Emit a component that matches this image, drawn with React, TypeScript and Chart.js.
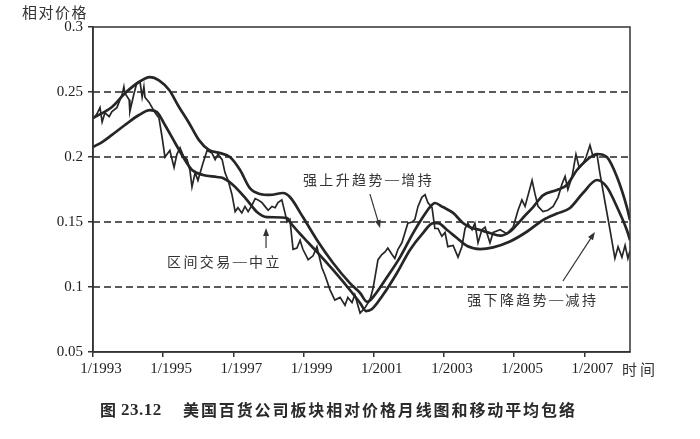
import React, { useEffect, useRef } from "react";
import { Chart, registerables } from "chart.js";

Chart.register(...registerables);

// ---- data ----
const priceYears = [
  1993.02, 1993.11, 1993.2, 1993.26, 1993.34, 1993.46, 1993.54, 1993.68, 1993.83, 1993.88,
  1993.91, 1994.03, 1994.05, 1994.17, 1994.25, 1994.34, 1994.4, 1994.45, 1994.48, 1994.6,
  1994.77, 1994.88, 1994.97, 1995.05, 1995.19, 1995.31, 1995.39, 1995.48, 1995.59, 1995.68,
  1995.76, 1995.82, 1995.91, 1995.99, 1996.13, 1996.25, 1996.39, 1996.48, 1996.56, 1996.68,
  1996.76, 1996.85, 1996.96, 1997.05, 1997.13, 1997.24, 1997.33, 1997.42, 1997.53, 1997.62,
  1997.7, 1997.81, 1997.9, 1997.99, 1998.1, 1998.19, 1998.27, 1998.38, 1998.47, 1998.53,
  1998.61, 1998.7, 1998.81, 1998.9, 1998.98, 1999.13, 1999.27, 1999.38, 1999.52, 1999.61,
  1999.75, 1999.89, 2000.04, 2000.18, 2000.26, 2000.38, 2000.46, 2000.61, 2000.75, 2000.89,
  2000.98, 2001.12, 2001.23, 2001.32, 2001.4, 2001.52, 2001.6, 2001.69, 2001.8, 2001.89,
  2001.97, 2002.09, 2002.17, 2002.26, 2002.37, 2002.46, 2002.54, 2002.66, 2002.74, 2002.83,
  2002.94, 2003.03, 2003.11, 2003.26, 2003.4, 2003.51, 2003.6, 2003.68, 2003.8, 2003.88,
  2003.97, 2004.08, 2004.17, 2004.31, 2004.4, 2004.6, 2004.79, 2004.97, 2005.11, 2005.22,
  2005.31, 2005.51, 2005.59, 2005.68, 2005.82, 2005.96, 2006.11, 2006.25, 2006.36, 2006.45,
  2006.53, 2006.65, 2006.76, 2006.85, 2006.96, 2007.05, 2007.16, 2007.25, 2007.36, 2007.44,
  2007.59, 2007.73, 2007.87, 2007.96, 2008.07, 2008.16, 2008.24, 2008.3,
];
const priceValues = [
  0.23, 0.233, 0.238, 0.227, 0.234, 0.231, 0.235, 0.238, 0.248, 0.254,
  0.249, 0.244, 0.235, 0.249, 0.257, 0.258, 0.246, 0.254, 0.246, 0.242,
  0.234, 0.23, 0.215, 0.2, 0.205, 0.192, 0.202, 0.207, 0.2, 0.198,
  0.19, 0.177, 0.188, 0.182, 0.195, 0.205, 0.203, 0.198, 0.202, 0.198,
  0.188, 0.182, 0.171, 0.158, 0.161, 0.157, 0.162, 0.158, 0.163, 0.168,
  0.167, 0.165, 0.162, 0.159, 0.162, 0.161, 0.165, 0.167, 0.157, 0.15,
  0.152, 0.129, 0.13, 0.136, 0.129, 0.121, 0.124, 0.131, 0.115, 0.109,
  0.098, 0.09, 0.092, 0.086, 0.092, 0.088, 0.094, 0.08, 0.084, 0.09,
  0.099, 0.121, 0.125, 0.127, 0.13, 0.125, 0.122, 0.129, 0.134, 0.142,
  0.149, 0.15, 0.152, 0.162, 0.169, 0.171, 0.165, 0.161, 0.145, 0.145,
  0.139, 0.142, 0.131, 0.132, 0.123, 0.131, 0.145, 0.149, 0.144, 0.149,
  0.134, 0.144, 0.146, 0.134, 0.142, 0.144, 0.141, 0.146, 0.159, 0.167,
  0.162, 0.182, 0.172, 0.162, 0.158, 0.159, 0.162, 0.169, 0.179, 0.185,
  0.175, 0.185, 0.202, 0.192, 0.195, 0.2, 0.209, 0.2, 0.202, 0.188,
  0.165, 0.144, 0.122, 0.131, 0.123, 0.132, 0.122, 0.128,
];

const upperYears = [
  1993.0, 1993.54, 1993.91, 1994.31, 1994.62, 1994.88, 1995.17, 1995.45, 1995.74, 1996.02,
  1996.3, 1996.62, 1996.9, 1997.19, 1997.47, 1997.76, 1998.04, 1998.41, 1998.61, 1998.98,
  1999.38, 1999.84, 2000.32, 2000.61, 2000.81, 2000.98, 2001.38, 2001.75, 2002.12, 2002.4,
  2002.6, 2002.74, 2002.97, 2003.26, 2003.54, 2003.74, 2004.03, 2004.31, 2004.6, 2004.88,
  2005.08, 2005.31, 2005.54, 2005.82, 2006.22, 2006.5, 2006.79, 2007.07, 2007.36, 2007.64,
  2007.93, 2008.21, 2008.3,
];
const upperValues = [
  0.23, 0.2385, 0.249, 0.2577, 0.2615, 0.259, 0.2515, 0.2385, 0.226, 0.213,
  0.2054, 0.203, 0.2, 0.19, 0.176, 0.1715, 0.1708, 0.1723, 0.1692, 0.1538,
  0.1362, 0.1185, 0.103, 0.0954, 0.0885, 0.0923, 0.1077, 0.123, 0.1415, 0.1538,
  0.1615, 0.1646, 0.1615, 0.157, 0.1492, 0.146, 0.1438, 0.1415, 0.1395, 0.1425,
  0.148, 0.155, 0.1615, 0.1705, 0.1746, 0.1785, 0.19, 0.1977, 0.2023, 0.2,
  0.1846, 0.1615, 0.1515,
];

const lowerYears = [
  1993.0, 1993.26, 1993.54, 1993.91, 1994.31, 1994.62, 1994.82, 1995.05, 1995.34, 1995.62,
  1995.82, 1996.13, 1996.53, 1996.7, 1996.99, 1997.39, 1997.67, 1997.96, 1998.53, 1998.61,
  1998.98, 1999.38, 1999.84, 2000.32, 2000.61, 2000.78, 2000.95, 2001.26, 2001.66, 2002.03,
  2002.4, 2002.69, 2002.83, 2003.09, 2003.37, 2003.66, 2004.03, 2004.4, 2004.88, 2005.36,
  2005.82, 2006.22, 2006.59, 2006.96, 2007.36, 2007.64, 2007.93, 2008.21, 2008.3,
];
const lowerValues = [
  0.2077, 0.2115, 0.217, 0.2246, 0.2323, 0.236, 0.2346, 0.2246, 0.2108, 0.1977,
  0.19, 0.1862, 0.1846, 0.1838, 0.1785, 0.1669, 0.1577, 0.1538, 0.1531, 0.15,
  0.1385, 0.127, 0.1131, 0.0977, 0.0877, 0.0815, 0.0831, 0.0938, 0.1108, 0.1285,
  0.1415, 0.1492, 0.1492, 0.1438, 0.1377, 0.1315, 0.1292, 0.1305, 0.135, 0.1425,
  0.1515, 0.1565, 0.1608, 0.1723, 0.1823, 0.1769, 0.1615, 0.1438, 0.136,
];

const xMin = 1993;
const xMax = 2008.3;
const xTickYears = [1993, 1995, 1997, 1999, 2001, 2003, 2005, 2007];
const yTickValues = [0.05, 0.1, 0.15, 0.2, 0.25, 0.3];
const yTickLabels = ["0.05", "0.1", "0.15", "0.2", "0.25", "0.3"];
const dashedLevels = [0.1, 0.15, 0.2, 0.25];

const yAxisTitle = "相对价格";
const xAxisTitle = "时间";
const captionPrefix = "图";
const captionNumber = "23.12";
const captionText = "美国百货公司板块相对价格月线图和移动平均包络";

const noteTexts = ["强上升趋势—增持", "区间交易—中立", "强下降趋势—减持"];
const noteX = [1998.98, 1995.11, 2003.66];
const noteY = [0.1823, 0.1192, 0.09];
const arrowFromX = [2000.89, 1997.93, 2006.39];
const arrowFromY = [0.1715, 0.13, 0.1046];
const arrowToX = [2001.18, 1997.93, 2007.3];
const arrowToY = [0.1454, 0.1454, 0.1423];

const INK = "#262626";
const CJK = "'Noto Sans CJK SC', 'Noto Sans', sans-serif";
const SERIF = "'Liberation Serif', 'DejaVu Serif', serif";

// draws text glyph by glyph with extra spacing; the em dash uses a serif face so it spans a full cell
function drawSpaced(ctx: CanvasRenderingContext2D, text: string, x: number, y: number, spacing: number, size: number) {
  let cx = x;
  for (const ch of Array.from(text)) {
    if (ch === "—") {
      const saved = ctx.font;
      ctx.font = `${size}px ${SERIF}`;
      const w = ctx.measureText(ch).width || size;
      ctx.fillText(ch, cx + (size - w) / 2, y);
      ctx.font = saved;
      cx += size + spacing;
    } else {
      ctx.fillText(ch, cx, y);
      cx += ctx.measureText(ch).width + spacing;
    }
  }
  return cx;
}

const decorPlugin = {
  id: "decor",
  beforeDatasetsDraw(chart: any) {
    const { ctx, chartArea, scales } = chart;
    const { left, right } = chartArea;
    ctx.save();
    ctx.strokeStyle = INK;
    ctx.lineWidth = 1.4;
    ctx.setLineDash([7, 4]);
    dashedLevels.forEach((v) => {
      const py = scales.y.getPixelForValue(v);
      ctx.beginPath();
      ctx.moveTo(left, py);
      ctx.lineTo(right, py);
      ctx.stroke();
    });
    ctx.restore();
  },
  afterDatasetsDraw(chart: any) {
    const { ctx, chartArea } = chart;
    const { left, right, top, bottom } = chartArea;
    ctx.save();
    ctx.strokeStyle = "#333";
    ctx.lineWidth = 1.5;
    ctx.strokeRect(left, top, right - left, bottom - top);
    ctx.restore();
  },
  afterDraw(chart: any) {
    const { ctx, chartArea, scales } = chart;
    const { left, right, top, bottom } = chartArea;
    const xs = scales.x;
    const ys = scales.y;
    ctx.save();
    ctx.fillStyle = "#333";
    ctx.textBaseline = "middle";
    ctx.textAlign = "left";

    // axis titles
    ctx.font = `15px ${CJK}`;
    drawSpaced(ctx, yAxisTitle, left - 71, top - 15, 1.5, 15);
    drawSpaced(ctx, xAxisTitle, right - 8, bottom + 17, 3, 15);

    // annotations
    ctx.font = `14px ${CJK}`;
    noteTexts.forEach((t, i) => {
      drawSpaced(ctx, t, xs.getPixelForValue(noteX[i]), ys.getPixelForValue(noteY[i]), 2.4, 14);
    });

    // arrows
    ctx.strokeStyle = "#333";
    ctx.lineWidth = 1.2;
    arrowFromX.forEach((_, i) => {
      const x1 = xs.getPixelForValue(arrowFromX[i]);
      const y1 = ys.getPixelForValue(arrowFromY[i]);
      const x2 = xs.getPixelForValue(arrowToX[i]);
      const y2 = ys.getPixelForValue(arrowToY[i]);
      const ang = Math.atan2(y2 - y1, x2 - x1);
      const hl = 8;
      const hw = 3;
      ctx.beginPath();
      ctx.moveTo(x1, y1);
      ctx.lineTo(x2 - Math.cos(ang) * hl * 0.8, y2 - Math.sin(ang) * hl * 0.8);
      ctx.stroke();
      ctx.beginPath();
      ctx.moveTo(x2, y2);
      ctx.lineTo(x2 - Math.cos(ang) * hl - Math.sin(ang) * hw, y2 - Math.sin(ang) * hl + Math.cos(ang) * hw);
      ctx.lineTo(x2 - Math.cos(ang) * hl + Math.sin(ang) * hw, y2 - Math.sin(ang) * hl - Math.cos(ang) * hw);
      ctx.closePath();
      ctx.fill();
    });

    // caption
    ctx.fillStyle = "#2a2a2a";
    const capY = bottom + 58;
    ctx.font = `bold 16px ${CJK}`;
    drawSpaced(ctx, captionPrefix, left + 7, capY, 0, 16);
    ctx.font = `bold 17px ${SERIF}`;
    drawSpaced(ctx, captionNumber, left + 28, capY + 1, 0.5, 17);
    ctx.font = `bold 16px ${CJK}`;
    drawSpaced(ctx, captionText, left + 90, capY, 1.9, 16);
    ctx.restore();
  },
};

export default function App() {
  const canvasRef = useRef<HTMLCanvasElement | null>(null);

  useEffect(() => {
    const canvas = canvasRef.current;
    if (!canvas) return;
    const toPoints = (xs: number[], ys: number[]) => xs.map((x, i) => ({ x, y: ys[i] }));
    const chart = new Chart(canvas, {
      type: "line",
      data: {
        datasets: [
          {
            label: "相对价格",
            data: toPoints(priceYears, priceValues),
            borderColor: INK,
            borderWidth: 1.7,
            pointRadius: 0,
            tension: 0,
            fill: false,
          },
          {
            label: "上包络",
            data: toPoints(upperYears, upperValues),
            borderColor: INK,
            borderWidth: 2.7,
            pointRadius: 0,
            cubicInterpolationMode: "monotone",
            fill: false,
          },
          {
            label: "下包络",
            data: toPoints(lowerYears, lowerValues),
            borderColor: INK,
            borderWidth: 2.7,
            pointRadius: 0,
            cubicInterpolationMode: "monotone",
            fill: false,
          },
        ],
      },
      options: {
        responsive: false,
        animation: false,
        devicePixelRatio: 1,
        layout: { padding: { top: 27, right: 70, bottom: 57, left: 0 } },
        plugins: {
          legend: { display: false },
          tooltip: { enabled: false },
          title: { display: false },
        },
        scales: {
          x: {
            type: "linear",
            min: xMin,
            max: xMax,
            afterBuildTicks: (scale: any) => {
              scale.ticks = xTickYears.map((v) => ({ value: v }));
            },
            afterFit: (scale: any) => {
              scale.height = 30;
            },
            ticks: {
              autoSkip: false,
              maxRotation: 0,
              padding: 3,
              labelOffset: 8,
              color: "#222",
              font: { family: SERIF, size: 15 },
              callback: (v: any) => "1/" + v,
            },
            grid: {
              drawOnChartArea: false,
              drawTicks: true,
              tickLength: 5,
              color: "#333",
              lineWidth: 1.5,
            },
            border: { display: true, color: "#333", width: 1.5 },
          },
          y: {
            type: "linear",
            min: 0.05,
            max: 0.3,
            afterBuildTicks: (scale: any) => {
              scale.ticks = yTickValues.map((v) => ({ value: v }));
            },
            afterFit: (scale: any) => {
              scale.width = 93;
            },
            ticks: {
              autoSkip: false,
              padding: 5,
              color: "#222",
              font: { family: SERIF, size: 15 },
              callback: (v: any) => {
                const idx = yTickValues.findIndex((t) => Math.abs(t - v) < 1e-9);
                return idx >= 0 ? yTickLabels[idx] : "";
              },
            },
            grid: {
              drawOnChartArea: false,
              drawTicks: true,
              tickLength: 5,
              color: "#333",
              lineWidth: 1.5,
            },
            border: { display: true, color: "#333", width: 1.5 },
          },
        },
      },
      plugins: [decorPlugin],
    } as any);
    return () => chart.destroy();
  }, []);

  return (
    <div style={{ position: "absolute", left: 0, top: 0, width: 700, height: 439, background: "#fff" }}>
      <canvas ref={canvasRef} width={700} height={439} style={{ display: "block", width: 700, height: 439 }} />
    </div>
  );
}
